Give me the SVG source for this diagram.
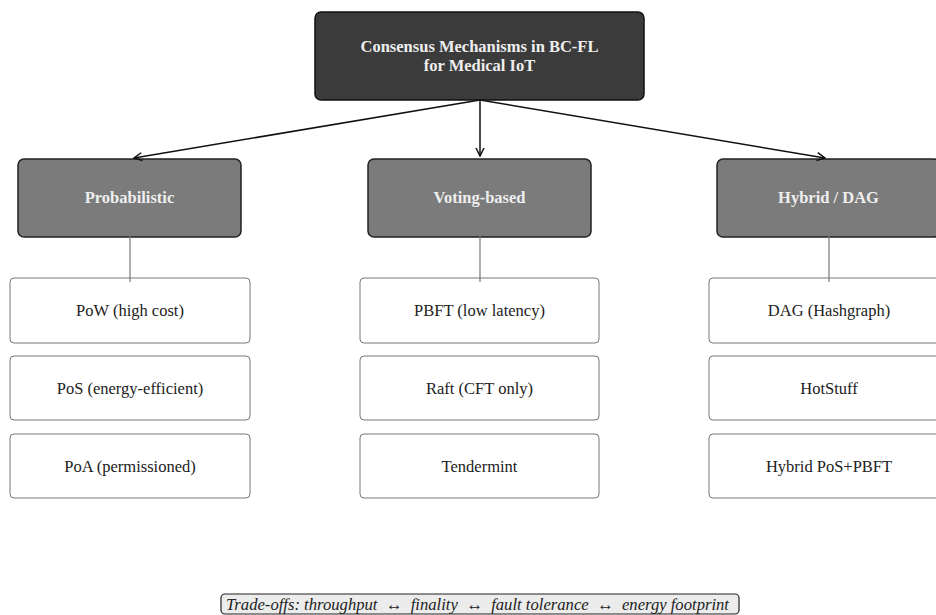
<svg xmlns="http://www.w3.org/2000/svg" width="936" height="615" viewBox="0 0 936 615">
<defs>
<style>
.root{fill:#3b3b3b;stroke:#111;stroke-width:1.5}
.cat{fill:#7b7b7b;stroke:#222;stroke-width:1.5}
.leaf{fill:#fff;stroke:#777;stroke-width:1}
.t{font-family:"Liberation Serif","Times New Roman",serif;font-size:16.5px;text-anchor:middle}
.tb{font-weight:bold;fill:#eeeeee}
.tl{fill:#222}
.edge{stroke:#111;stroke-width:1.5;fill:none}
.link{stroke:#777;stroke-width:1.2;fill:none}
</style>
<marker id="arr" viewBox="0 0 10 10" refX="9" refY="5" markerWidth="10" markerHeight="10" markerUnits="userSpaceOnUse" orient="auto">
<path d="M1,1 L9,5 L1,9" fill="none" stroke="#111" stroke-width="1.5"/>
</marker>
</defs>
<rect width="936" height="615" fill="#fff"/>
<g id="root">
<rect class="root" x="315" y="12" width="329" height="88" rx="6"/>
<text class="t tb" x="479.5" y="52">Consensus Mechanisms in BC-FL</text>
<text class="t tb" x="479.5" y="71">for Medical IoT</text>
</g>
<g id="probabilistic">
<rect class="cat" x="18" y="159" width="223" height="78" rx="6"/>
<text class="t tb" x="129.5" y="203">Probabilistic</text>
</g>
<g id="voting">
<rect class="cat" x="368" y="159" width="223" height="78" rx="6"/>
<text class="t tb" x="479.5" y="203">Voting-based</text>
</g>
<g id="hybrid">
<rect class="cat" x="717" y="159" width="223" height="78" rx="6"/>
<text class="t tb" x="828.5" y="203">Hybrid / DAG</text>
</g>
<g id="pow"><rect class="leaf" x="10" y="278" width="240" height="65" rx="4"/><text class="t tl" x="130" y="316">PoW (high cost)</text></g>
<g id="pos"><rect class="leaf" x="10" y="356" width="240" height="64" rx="4"/><text class="t tl" x="130" y="393.5">PoS (energy-efficient)</text></g>
<g id="poa"><rect class="leaf" x="10" y="434" width="240" height="64" rx="4"/><text class="t tl" x="130" y="471.5">PoA (permissioned)</text></g>
<g id="pbft"><rect class="leaf" x="360" y="278" width="239" height="65" rx="4"/><text class="t tl" x="479.5" y="316">PBFT (low latency)</text></g>
<g id="raft"><rect class="leaf" x="360" y="356" width="239" height="64" rx="4"/><text class="t tl" x="479.5" y="393.5">Raft (CFT only)</text></g>
<g id="tendermint"><rect class="leaf" x="360" y="434" width="239" height="64" rx="4"/><text class="t tl" x="479.5" y="471.5">Tendermint</text></g>
<g id="dag"><rect class="leaf" x="709" y="278" width="240" height="65" rx="4"/><text class="t tl" x="829" y="316">DAG (Hashgraph)</text></g>
<g id="hotstuff"><rect class="leaf" x="709" y="356" width="240" height="64" rx="4"/><text class="t tl" x="829" y="393.5">HotStuff</text></g>
<g id="hybridpos"><rect class="leaf" x="709" y="434" width="240" height="64" rx="4"/><text class="t tl" x="829" y="471.5">Hybrid PoS+PBFT</text></g>
<g id="connectors">
<line class="edge" x1="480" y1="100" x2="134" y2="158" marker-end="url(#arr)"/>
<line class="edge" x1="480" y1="100" x2="480" y2="156" marker-end="url(#arr)"/>
<line class="edge" x1="480" y1="100" x2="825" y2="158" marker-end="url(#arr)"/>
<line class="link" x1="130" y1="232" x2="130" y2="282"/>
<line class="link" x1="480" y1="232" x2="480" y2="282"/>
<line class="link" x1="829" y1="232" x2="829" y2="282"/>
</g>
<g id="tradeoffs">
<rect x="221" y="594" width="518" height="20" rx="4" fill="#ececec" stroke="#222" stroke-width="1.2"/>
<text x="226" y="609.5" font-family="Liberation Serif, Times New Roman, serif" font-size="17.5" font-style="italic" fill="#222" textLength="503" lengthAdjust="spacingAndGlyphs">Trade-offs: throughput&#160;&#160;↔&#160;&#160;finality&#160;&#160;↔&#160;&#160;fault tolerance&#160;&#160;↔&#160;&#160;energy footprint</text>
</g>
</svg>
